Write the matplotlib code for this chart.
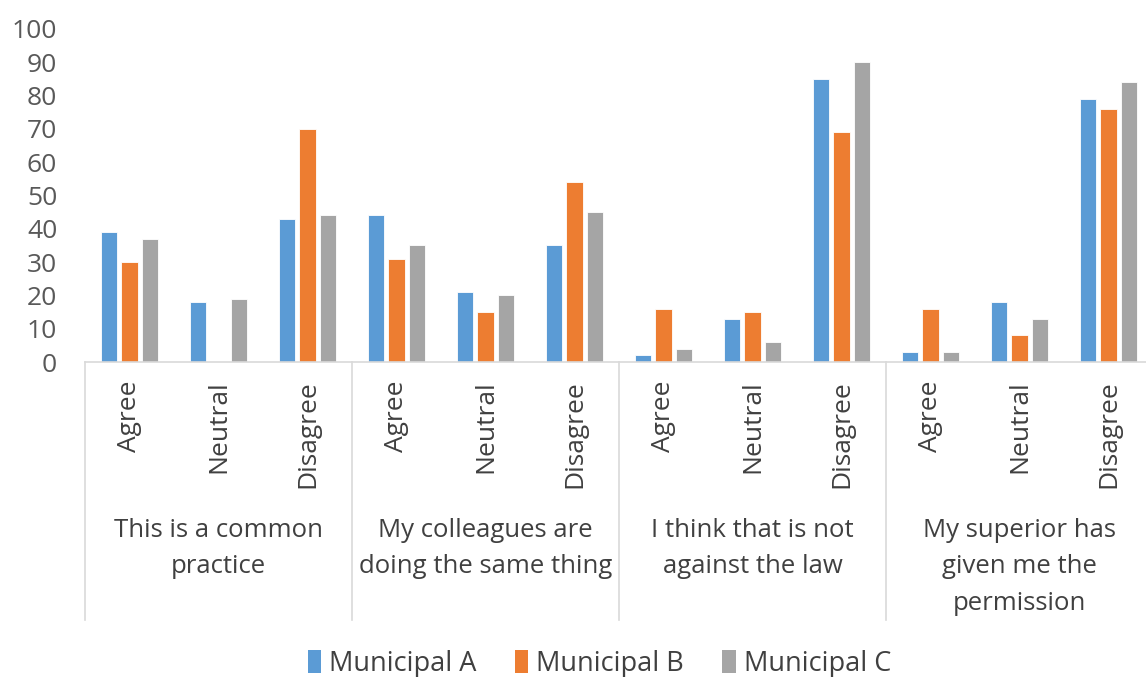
import matplotlib.pyplot as plt
from matplotlib.patches import Patch
import matplotlib.transforms as mtransforms

plt.rcParams['font.family'] = ['Open Sans', 'DejaVu Sans']

# data
groups = ['This is a common\npractice',
          'My colleagues are\ndoing the same thing',
          'I think that is not\nagainst the law',
          'My superior has\ngiven me the\npermission']
answers = ['Agree', 'Neutral', 'Disagree']
series = ['Municipal A', 'Municipal B', 'Municipal C']
muni_a = [39, 18, 43, 44, 21, 35, 2, 13, 85, 3, 18, 79]
muni_b = [30, 0, 70, 31, 15, 54, 16, 15, 69, 16, 8, 76]
muni_c = [37, 19, 44, 35, 20, 45, 4, 6, 90, 3, 13, 84]
colors = ['#5B9BD5', '#ED7D31', '#A5A5A5']

fig = plt.figure(figsize=(11.46, 6.77), dpi=100)
ax = fig.add_axes([85 / 1146, 1 - 362 / 677, 1068 / 1146, 333 / 677])

x = list(range(len(muni_a)))
width = 0.18
step = 0.225
for i, (vals, c) in enumerate(zip([muni_a, muni_b, muni_c], colors)):
    ax.bar([p + (i - 1) * step for p in x], vals, width, color=c,
           edgecolor='white', linewidth=0.6)

ax.set_xlim(-0.5, len(x) - 0.5)
ax.set_ylim(0, 100)
ax.set_yticks(range(0, 101, 10))
ax.tick_params(axis='y', length=0, pad=20, labelsize=19, labelcolor='#595959')
ax.set_xticks(x)
ax.set_xticklabels(answers * len(groups), rotation=90, fontsize=19,
                   color='#404040')
ax.tick_params(axis='x', length=0, pad=13)
for s in ['top', 'right', 'left']:
    ax.spines[s].set_visible(False)
ax.spines['bottom'].set_color('#D9D9D9')
ax.spines['bottom'].set_linewidth(1.2)

trans = mtransforms.blended_transform_factory(ax.transData, ax.transAxes)
for g in range(len(groups) + 1):
    xs = g * 3 - 0.5
    ax.plot([xs, xs], [0, -0.775], transform=trans, clip_on=False,
            color='#D9D9D9', linewidth=1.2)
for g, name in enumerate(groups):
    ax.text(g * 3 + 1, -0.468, name, transform=trans, ha='center', va='top',
            fontsize=18.5, color='#404040', linespacing=1.6)

handles = [Patch(facecolor=c, label=s) for s, c in zip(series, colors)]
fig.legend(handles=handles, loc='lower center', bbox_to_anchor=(0.523, -0.037),
           ncol=3, frameon=False, fontsize=19.5, handlelength=0.5,
           handleheight=0.9, handletextpad=0.3, columnspacing=1.4,
           labelcolor='#404040')

fig.savefig('out.png', dpi=100)
